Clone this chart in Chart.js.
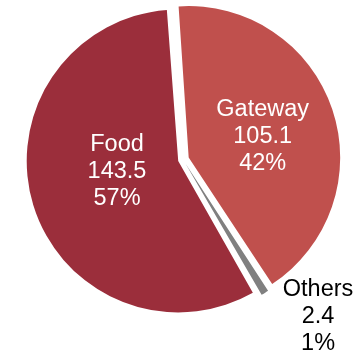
<!DOCTYPE html>
<html>
<head>
<meta charset="utf-8">
<script src="https://cdn.jsdelivr.net/npm/chart.js@4"></script>
<style>
  html, body { margin: 0; padding: 0; background: #fff; }
  .wrap { position: relative; width: 357px; height: 355px; }
</style>
</head>
<body>
<div class="wrap"><canvas class="segments"></canvas></div>
<script>
const LABELS = ['Gateway', 'Others', 'Food'];
const VALUES = [105.1, 2.4, 143.5];

const TOTAL = VALUES.reduce((a, b) => a + b, 0);

// Chart.js grows an offset arc's radius a little; pull it back so every
// slice keeps the same radius and only moves out
const evenRadius = {
  id: 'evenRadius',
  beforeDatasetsDraw(chart) {
    const meta = chart.getDatasetMeta(0);
    const base = meta.controller.outerRadius;
    meta.data.forEach(arc => {
      const o = (arc.options.offset || 0) / 4;
      const fix = 1 - Math.sin(Math.min(Math.PI, arc.circumference || 0));
      arc.outerRadius = base - o * fix;
    });
  }
};

// writes name / value / share on each slice; placement is a share of the
// radius plus a small turn (deg) off the slice middle
const sliceLabels = {
  id: 'sliceLabels',
  afterDatasetsDraw(chart, args, opts) {
    const ctx = chart.ctx;
    const meta = chart.getDatasetMeta(0);
    const base = meta.controller.outerRadius;
    ctx.save();
    ctx.font = '23.5px "Liberation Sans", Arial, sans-serif';
    ctx.textAlign = 'center';
    ctx.textBaseline = 'middle';
    meta.data.forEach((arc, i) => {
      const p = arc.getProps(['x', 'y', 'startAngle', 'endAngle'], true);
      const mid = (p.startAngle + p.endAngle) / 2;
      // arcs are pushed out by offset / 4 when drawn
      const shift = (arc.options.offset || 0) / 4;
      const ox = p.x + Math.cos(mid) * shift;
      const oy = p.y + Math.sin(mid) * shift;
      const a = mid + opts.turn[i] * Math.PI / 180;
      const r = base * opts.radius[i];
      const cx = ox + Math.cos(a) * r;
      const cy = oy + Math.sin(a) * r;
      const lines = [LABELS[i], VALUES[i].toFixed(1), Math.round(VALUES[i] / TOTAL * 100) + '%'];
      ctx.fillStyle = opts.colors[i];
      lines.forEach((t, k) => ctx.fillText(t, cx, cy + (k - 1) * 27));
    });
    ctx.restore();
  }
};

const SEGMENTS_CHART = new Chart(document.querySelector('.segments'), {
  type: 'pie',
  data: {
    labels: LABELS,
    datasets: [{
      data: VALUES,
      backgroundColor: ['#c0504d', '#808080', '#9b2e3b'],
      offset: [24, 20, 20],
      borderWidth: 0
    }]
  },
  options: {
    responsive: true,
    maintainAspectRatio: false,
    animation: false,
    rotation: -4,
    radius: 151.5,
    layout: { padding: { left: 9, right: 0, top: 0, bottom: 36 } },
    plugins: {
      legend: { display: false },
      tooltip: { enabled: false },
      sliceLabels: {
        radius: [0.507, 1.337, 0.41],
        turn: [3, -9.3, 7],
        colors: ['#ffffff', '#000000', '#ffffff']
      }
    }
  },
  plugins: [evenRadius, sliceLabels]
});
</script>
</body>
</html>
